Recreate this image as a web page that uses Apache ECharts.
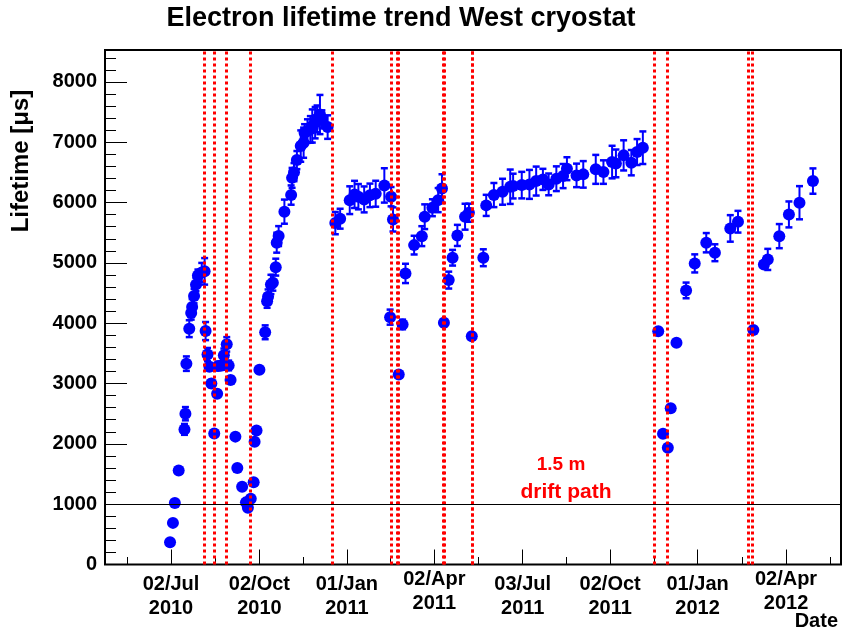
<!DOCTYPE html>
<html><head><meta charset="utf-8">
<script src="https://cdn.jsdelivr.net/npm/echarts@6/dist/echarts.min.js"></script>
<style>html,body{margin:0;padding:0;background:#fff}#c{width:845px;height:633px}</style>
</head><body><div id="c"></div>
<script>
// ---- data ----
const dates = [
 "2010-07-01","2010-07-04","2010-07-06","2010-07-10","2010-07-16","2010-07-17","2010-07-18","2010-07-21","2010-07-23","2010-07-24",
 "2010-07-26","2010-07-28","2010-07-30","2010-08-03","2010-08-06",
 "2010-08-07","2010-08-09","2010-08-11","2010-08-13","2010-08-16","2010-08-19","2010-08-20","2010-08-24","2010-08-26","2010-08-29",
 "2010-08-31","2010-09-02","2010-09-07","2010-09-09","2010-09-14","2010-09-18","2010-09-20","2010-09-23","2010-09-26","2010-09-27",
 "2010-09-29","2010-10-02","2010-10-08","2010-10-10","2010-10-11","2010-10-14","2010-10-16","2010-10-19","2010-10-20","2010-10-22",
 "2010-10-28","2010-11-04","2010-11-05","2010-11-07","2010-11-10","2010-11-14","2010-11-17","2010-11-18","2010-11-21","2010-11-24",
 "2010-11-26","2010-11-29","2010-12-01","2010-12-04","2010-12-06","2010-12-12",
 "2010-12-20","2010-12-25","2011-01-04","2011-01-09","2011-01-13","2011-01-19","2011-01-25","2011-01-31","2011-02-09","2011-02-15",
 "2011-02-16","2011-02-18","2011-02-24","2011-02-28","2011-03-03","2011-03-12","2011-03-20","2011-03-23","2011-03-31","2011-04-06",
 "2011-04-10","2011-04-12","2011-04-17","2011-04-21","2011-04-26","2011-05-04","2011-05-08","2011-05-11","2011-05-23","2011-05-26",
 "2011-06-03","2011-06-12","2011-06-20","2011-06-23","2011-07-02","2011-07-10","2011-07-17","2011-07-24","2011-07-30","2011-08-07",
 "2011-08-14","2011-08-18","2011-08-28","2011-09-04","2011-09-17","2011-09-25","2011-10-04","2011-10-08","2011-10-16","2011-10-24",
 "2011-10-30","2011-11-05",
 "2011-11-21","2011-11-26","2011-12-01","2011-12-04","2011-12-10","2011-12-20","2011-12-29","2012-01-10","2012-01-19","2012-02-04",
 "2012-02-12","2012-02-28","2012-03-10","2012-03-14","2012-03-26","2012-04-05","2012-04-16","2012-04-30"
];
const lifetime = [
 370,690,1020,1560,2240,2500,3330,3910,4170,4270,
 4450,4640,4790,4840,4860,
 3870,3480,3280,3000,2170,2830,3290,3300,3470,3650,
 3300,3060,2120,1600,1290,1030,940,1090,1365,2035,
 2220,3230,3850,4366,4440,4643,4670,4930,5335,5445,
 5850,6125,6410,6505,6705,6937,6993,7160,7186,7214,
 7270,7325,7390,7460,7380,7252,
 5660,5733,6040,6136,6098,6053,6120,6147,6285,4101,
 6098,5721,3151,3980,4826,5295,5444,5766,5915,6041,
 6235,4008,4715,5086,5456,5766,5832,3786,5086,5954,
 6125,6180,6263,6274,6290,6302,6357,6385,6302,6396,
 6440,6562,6451,6468,6551,6506,6672,6650,6783,6662,
 6838,6910,
 3869,2167,1935,2592,3677,4544,4992,5335,5169,5572,
 5683,3886,4975,5058,5444,5804,5998,6357
];
const lifetimeErr = [
 0,0,0,0,90,110,120,140,110,130,
 120,110,100,160,220,
 150,110,60,60,0,50,70,70,110,120,
 80,60,0,0,0,0,0,0,0,0,
 0,0,115,110,120,160,130,140,165,165,
 200,160,165,150,150,260,250,140,195,220,
 275,260,220,325,150,195,
 185,165,230,225,210,215,195,215,285,125,
 160,200,0,80,160,155,165,205,140,200,
 235,60,140,130,175,215,150,0,140,175,
 200,215,285,205,220,240,240,175,180,205,
 200,190,195,220,240,195,270,230,250,210,
 215,270,
 0,0,0,0,0,130,150,160,140,220,
 180,0,0,175,200,215,275,210
];
// red dotted vertical markers
const cutDates = [
 "2010-08-06","2010-08-16","2010-08-29","2010-09-22","2010-12-17","2011-02-16","2011-02-22","2011-02-23",
 "2011-04-11","2011-04-12","2011-05-11","2011-05-12","2011-11-17","2011-11-30","2012-02-23","2012-02-27"
];
const refLevel = 1000;
const tickDates = ["2010-07-02","2010-10-02","2011-01-01","2011-04-02","2011-07-03","2011-10-02","2012-01-01","2012-04-02"];
const tickLabels = ["02/Jul\n2010","02/Oct\n2010","01/Jan\n2011","02/Apr\n2011","03/Jul\n2011","02/Oct\n2011","01/Jan\n2012","02/Apr\n2012"];
const yTicks = [0,1000,2000,3000,4000,5000,6000,7000,8000];
const titleText = "Electron lifetime trend West cryostat";
const yTitle = "Lifetime [\u03bcs]";
const xTitle = "Date";
const noteLines = ["1.5 m","drift path"];

// ---- build ----
const ts = s => Date.parse(s + "T00:00:00Z");
const xMin = Date.parse("2010-04-24T07:40:00Z");
const xMax = Date.parse("2012-05-29T04:50:00Z");
const yMax = 8530;
const majorT = tickDates.map(ts);
const minorT = [];
for (let i = 0; i < majorT.length - 1; i++) minorT.push((majorT[i] + majorT[i + 1]) / 2);
minorT.unshift(majorT[0] - (majorT[1] - majorT[0]) / 2);
minorT.push(majorT[majorT.length - 1] + (majorT[majorT.length - 1] - majorT[majorT.length - 2]) / 2);
const labelMap = new Map(majorT.map((t, i) => [t, tickLabels[i]]));
const labelFor = v => {
  if (labelMap.has(v)) return labelMap.get(v);
  let best = 0, bd = Infinity;
  majorT.forEach((t, i) => { const d = Math.abs(t - v); if (d < bd) { bd = d; best = i; } });
  return tickLabels[best];
};
const isApr = i => tickLabels[i].indexOf("Apr") >= 0;
const normalT = majorT.filter((t, i) => !isApr(i));
const aprT = majorT.filter((t, i) => isApr(i));
const yMinor = [];
for (let v = 200; v < yMax; v += 200) if (v % 1000 !== 0) yMinor.push(v);

const FONT = '"Liberation Sans", Arial, Helvetica, sans-serif';
const lblStyle = { fontSize: 20, fontWeight: 'bold', color: '#000', fontFamily: FONT, lineHeight: 24 };
const baseX = { type: 'value', min: xMin, max: xMax, position: 'bottom', offset: 0,
  axisLine: { show: false }, splitLine: { show: false } };
const baseY = { type: 'value', min: 0, max: yMax, position: 'left', offset: 0,
  axisLine: { show: false }, splitLine: { show: false } };

const pts = dates.map((d, i) => [ts(d), lifetime[i], lifetimeErr[i]]);
const BLUE = '#0000ff';

const markData = cutDates.map(d => ({ xAxis: ts(d), lineStyle: { color: '#ff0000', width: 3, type: [3, 3] } }));
markData.push({ yAxis: refLevel, lineStyle: { color: '#000', width: 1, type: 'solid' } });

const chart = echarts.init(document.getElementById('c'), null, { renderer: 'canvas' });
chart.setOption({
  animation: false,
  backgroundColor: '#fff',
  grid: { left: 105, right: 4, top: 50, bottom: 68.5, show: true, borderColor: '#000', borderWidth: 2, backgroundColor: 'transparent' },
  xAxis: [
    Object.assign({}, baseX, {
      axisTick: { show: true, inside: true, length: 15, customValues: majorT, lineStyle: { color: '#000', width: 1 } },
      axisLabel: Object.assign({ customValues: normalT, formatter: v => labelFor(v), margin: 8 }, lblStyle)
    }),
    Object.assign({}, baseX, {
      axisTick: { show: true, inside: true, length: 7.5, customValues: minorT, lineStyle: { color: '#000', width: 1 } },
      axisLabel: { show: false }
    }),
    Object.assign({}, baseX, {
      axisTick: { show: false },
      axisLabel: Object.assign({ customValues: aprT, formatter: v => labelFor(v), margin: 3 }, lblStyle)
    })
  ],
  yAxis: [
    Object.assign({}, baseY, {
      axisTick: { show: true, inside: true, length: 22, customValues: yTicks, lineStyle: { color: '#000', width: 1 } },
      axisLabel: Object.assign({ customValues: yTicks, margin: 8, formatter: v => String(Math.round(v)) }, lblStyle)
    }),
    Object.assign({}, baseY, {
      axisTick: { show: true, inside: true, length: 11, customValues: yMinor, lineStyle: { color: '#000', width: 1 } },
      axisLabel: { show: false }
    })
  ],
  series: [
    {
      type: 'custom', xAxisIndex: 0, yAxisIndex: 0, z: 2, data: pts,
      encode: { x: 0, y: 1 },
      renderItem: (params, api) => {
        const t = api.value(0), v = api.value(1), e = api.value(2);
        if (!e) return { type: 'group', children: [] };
        const a = api.coord([t, v + e]), b = api.coord([t, v - e]);
        const cw = 3.5;
        const st = { stroke: BLUE, lineWidth: 2 };
        return { type: 'group', children: [
          { type: 'line', shape: { x1: a[0], y1: a[1], x2: b[0], y2: b[1] }, style: st },
          { type: 'line', shape: { x1: a[0] - cw, y1: a[1], x2: a[0] + cw, y2: a[1] }, style: { stroke: BLUE, lineWidth: 2.5 } },
          { type: 'line', shape: { x1: b[0] - cw, y1: b[1], x2: b[0] + cw, y2: b[1] }, style: { stroke: BLUE, lineWidth: 2.5 } }
        ] };
      }
    },
    {
      type: 'scatter', xAxisIndex: 0, yAxisIndex: 0, z: 3,
      data: pts.map(p => [p[0], p[1]]), symbol: 'circle', symbolSize: 12,
      itemStyle: { color: BLUE, opacity: 1 }
    },
    {
      type: 'scatter', xAxisIndex: 0, yAxisIndex: 0, z: 5, data: [],
      markLine: { silent: true, symbol: 'none', label: { show: false }, animation: false, data: markData }
    }
  ],
  graphic: [
    { type: 'text', x: 401, y: 19, z: 10, style: { text: titleText, font: 'bold 27px ' + FONT, fill: '#000', textAlign: 'center', textVerticalAlign: 'middle' } },
    { type: 'text', x: 21, y: 161, rotation: Math.PI / 2, z: 10, style: { text: yTitle, font: 'bold 24px ' + FONT, fill: '#000', textAlign: 'center', textVerticalAlign: 'middle' } },
    { type: 'text', x: 838, y: 621, z: 10, style: { text: xTitle, font: 'bold 20px ' + FONT, fill: '#000', textAlign: 'right', textVerticalAlign: 'middle' } },
    { type: 'text', x: 561, y: 465, z: 10, style: { text: noteLines[0], font: 'bold 19px ' + FONT, fill: '#ff0000', textAlign: 'center', textVerticalAlign: 'middle' } },
    { type: 'text', x: 566, y: 492, z: 10, style: { text: noteLines[1], font: 'bold 21px ' + FONT, fill: '#ff0000', textAlign: 'center', textVerticalAlign: 'middle' } }
  ]
});
</script>
</body></html>
